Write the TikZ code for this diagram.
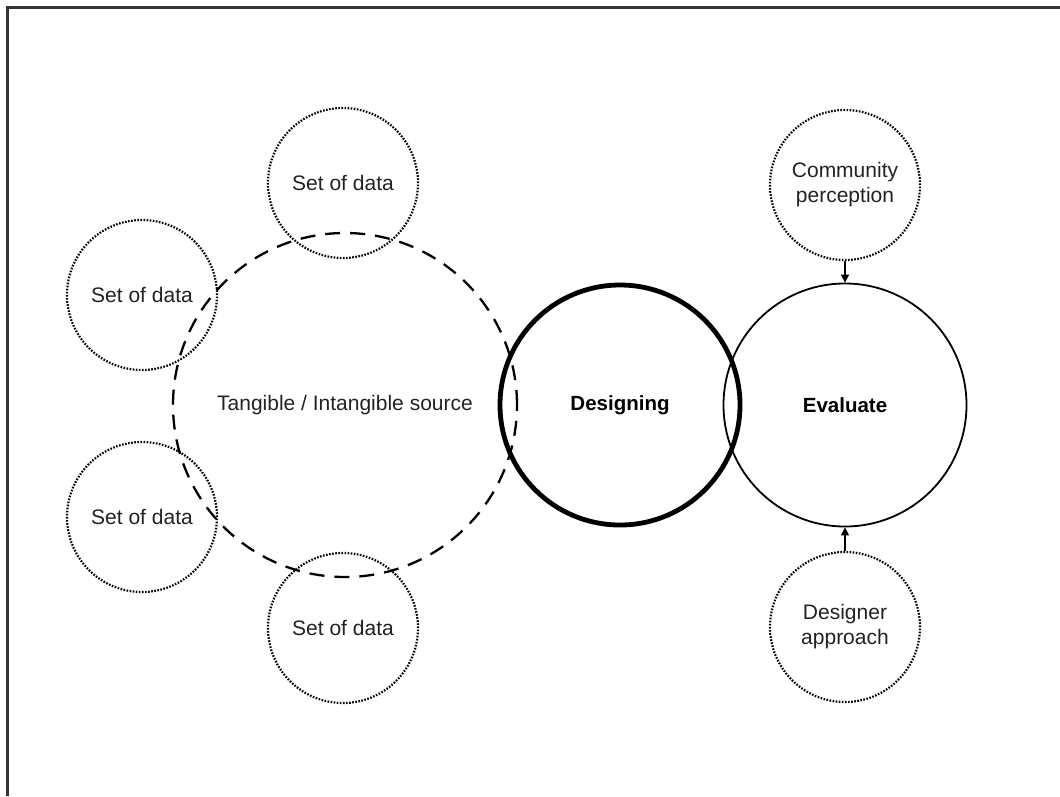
\documentclass[tikz,border=0pt]{standalone}
\usepackage{fontspec}
\setmainfont{Liberation Sans}
\usetikzlibrary{arrows.meta}
\definecolor{ink}{HTML}{222222}
\definecolor{framec}{HTML}{333333}
\tikzset{
  databubble/.style={circle, draw=black, line width=2.2pt, dash pattern=on 1.6pt off 1.5pt,
    minimum size=150pt, inner sep=0pt, text=ink, font=\fontsize{21}{25}\selectfont, align=center},
  sourcebubble/.style={circle, draw=black, line width=2.3pt, dash pattern=on 15pt off 10pt,
    minimum size=344pt, inner sep=0pt, text=ink, font=\fontsize{21}{25}\selectfont},
  stagebubble/.style={circle, draw=black, minimum size=243pt, inner sep=0pt,
    font=\bfseries\fontsize{20.5}{25}\selectfont},
  arr/.style={line width=1.5pt, -{Triangle[length=8pt,width=8pt]}}
}
\begin{document}
\begin{tikzpicture}[x=1pt,y=-1pt]
  \useasboundingbox (0,0) rectangle (1060,796);
  % page frame (top and left edges)
  \draw[framec, line width=3pt] (7.5,796) -- (7.5,7.5) -- (1060,7.5);

  % source and its data sets
  \node[sourcebubble] (src) at (345,405) {Tangible / Intangible source};
  \node[databubble] (d1) at (343,183) {Set of data};
  \node[databubble] (d2) at (142,295) {Set of data};
  \node[databubble] (d3) at (142,517) {Set of data};
  \node[databubble] (d4) at (343,628) {Set of data};

  % design and evaluation stages
  \node[stagebubble, line width=4.8pt, minimum size=240pt] (des) at (620,405) {Designing};
  \node[stagebubble, line width=1.8pt] (eval) at (845,405) {Evaluate};

  % evaluation inputs
  \node[databubble] (comm) at (845,185) {Community\\perception};
  \node[databubble] (appr) at (845,627) {Designer\\approach};

  \draw[arr] (comm.south) -- (eval.north);
  \draw[arr] (appr.north) -- (eval.south);
\end{tikzpicture}
\end{document}
